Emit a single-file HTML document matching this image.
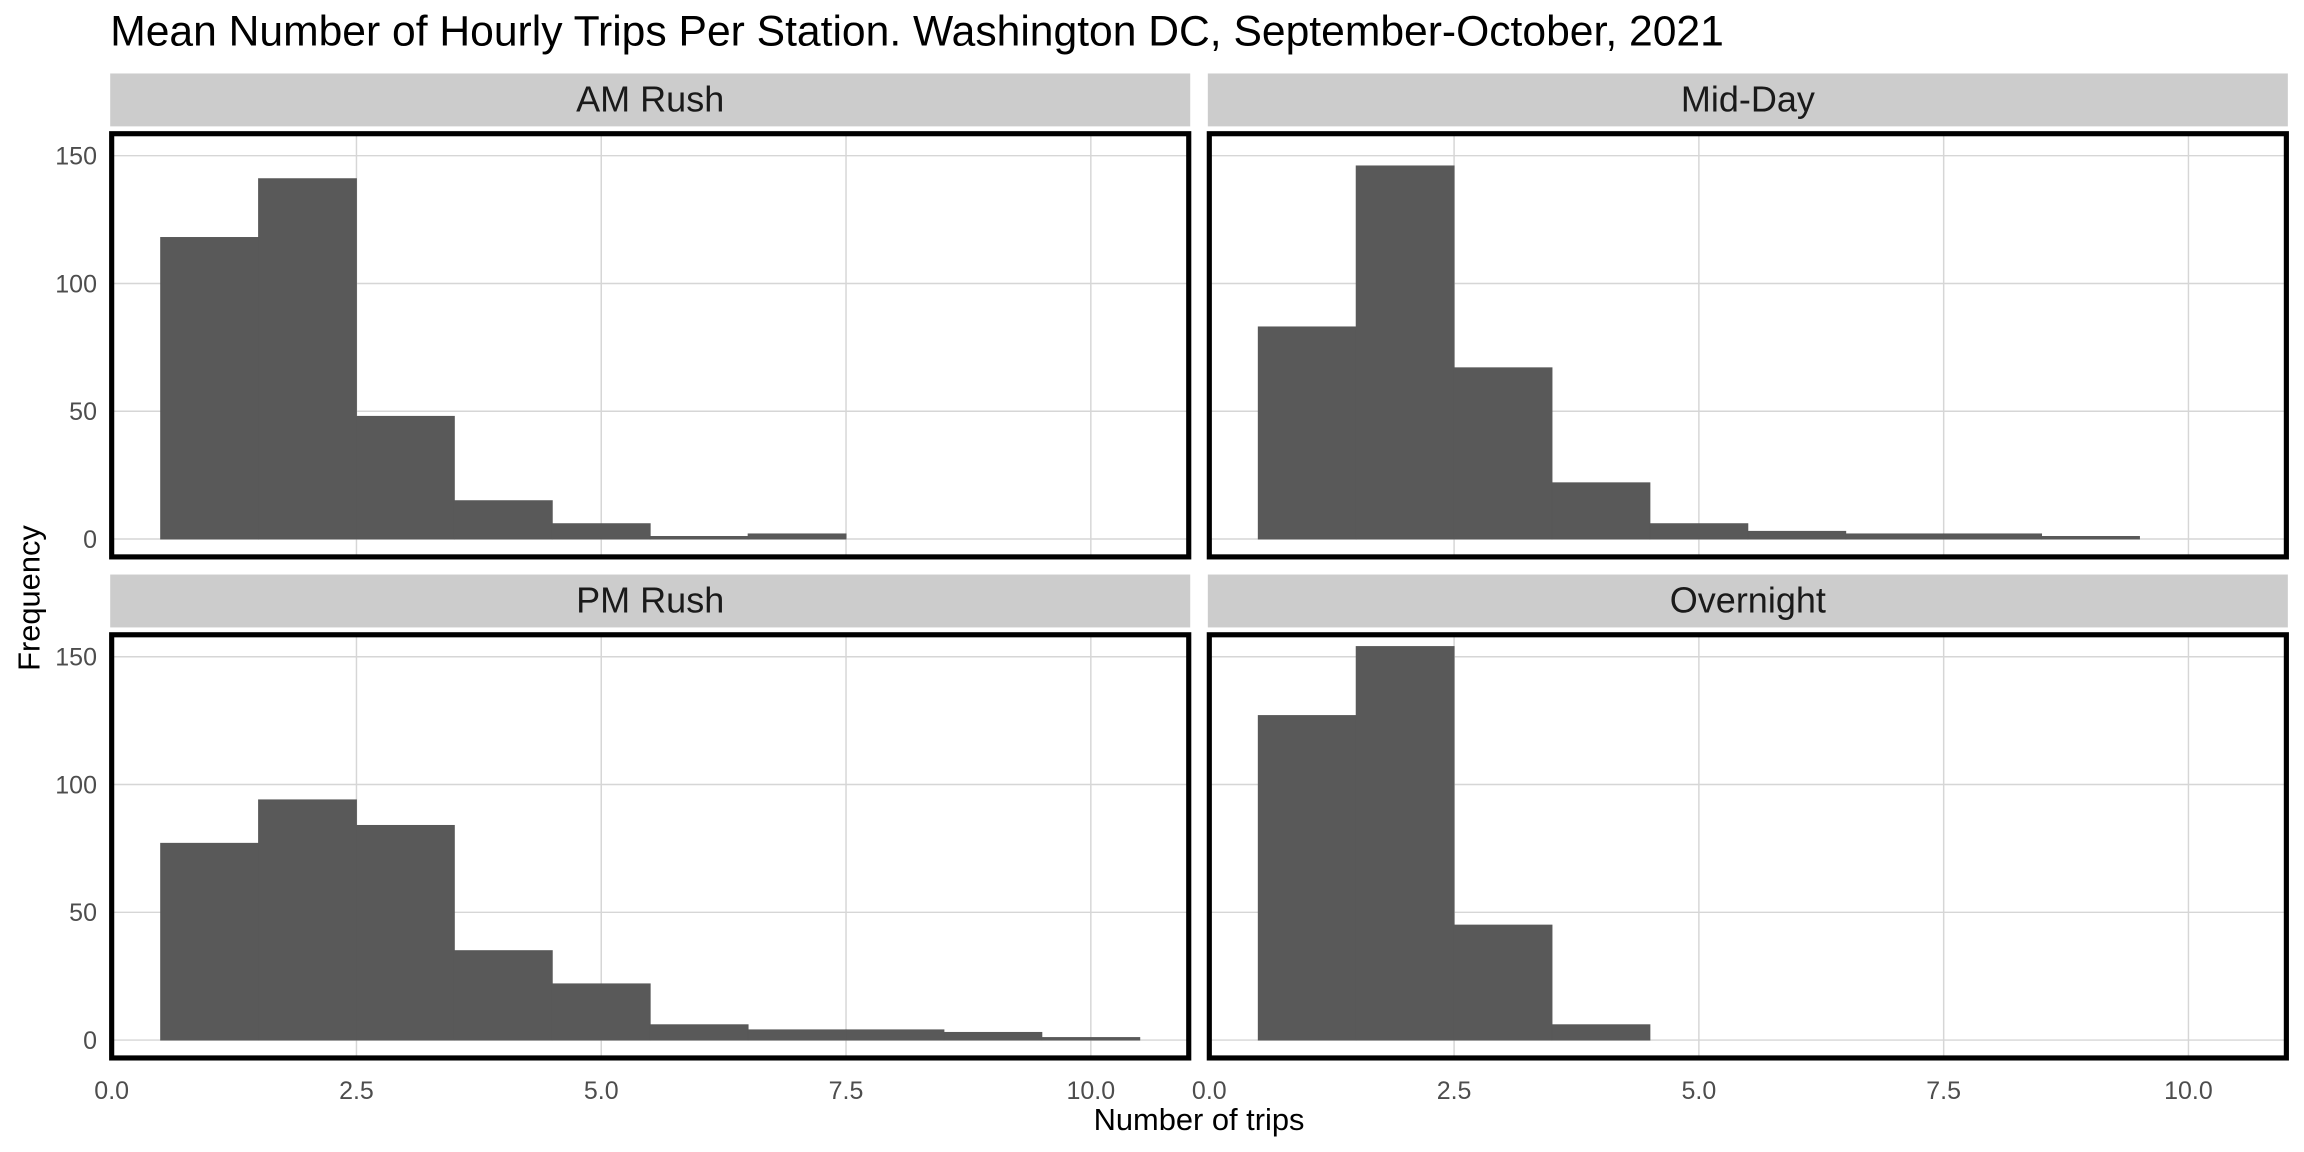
<!DOCTYPE html>
<html><head><meta charset="utf-8"><style>
html,body{margin:0;padding:0;background:#fff;}
svg{display:block;font-family:"Liberation Sans",Arial,sans-serif;}
</style></head><body>
<svg id="chart" width="2304" height="1152" viewBox="0 0 1568 784" xmlns="http://www.w3.org/2000/svg">
<rect width="1568" height="784" fill="#fff"/>
<text x="75" y="31" font-size="29" fill="#000">Mean Number of Hourly Trips Per Station. Washington DC, September-October, 2021</text>
<text x="816" y="769" font-size="21" text-anchor="middle" fill="#000">Number of trips</text>
<text transform="translate(27,407) rotate(-90)" font-size="21" text-anchor="middle" fill="#000">Frequency</text>
<g id="panels"></g>
</svg>
<script>
const panelNames = ["AM Rush","Mid-Day","PM Rush","Overnight"];
const binCenters = [1,2,3,4,5,6,7,8,9,10];
const amRush = [118,141,48,15,6,1,2,0,0,0];
const midDay = [83,146,67,22,6,3,2,2,1,0];
const pmRush = [77,94,84,35,22,6,4,4,3,1];
const overnight = [127,154,45,6,0,0,0,0,0,0];
const xTicks = [0,2.5,5,7.5,10];
const xTickLabels = ["0.0","2.5","5.0","7.5","10.0"];
const yTicks = [0,50,100,150];
const yTickLabels = ["0","50","100","150"];
const binWidth = 1;

const series = [amRush, midDay, pmRush, overnight];
const NS = "http://www.w3.org/2000/svg";
const root = document.getElementById("panels");
const layout = [
  {x0:76,x1:809,y0:91,y1:379,sy:50},
  {x0:823,x1:1556,y0:91,y1:379,sy:50},
  {x0:76,x1:809,y0:432,y1:720,sy:391},
  {x0:823,x1:1556,y0:432,y1:720,sy:391}
];
const xDom=[0,11], yDom=[-7,158.6];
function mk(tag, attrs){const e=document.createElementNS(NS,tag);for(const k in attrs)e.setAttribute(k,attrs[k]);return e;}

panelNames.forEach((name,i)=>{
  const L=layout[i];
  const g=mk("g",{});
  
  
  const xs=v=>L.x0+(v-xDom[0])/(xDom[1]-xDom[0])*(L.x1-L.x0);
  const ys=v=>L.y1-(v-yDom[0])/(yDom[1]-yDom[0])*(L.y1-L.y0);
  const strip=mk("rect",{x:L.x0-1,y:L.sy,width:L.x1-L.x0+2,height:36,fill:"#cccccc"});
  
  
  g.appendChild(strip);
  const st=mk("text",{x:(L.x0+L.x1)/2,y:L.sy+26,"font-size":24.5,"text-anchor":"middle",fill:"#1a1a1a"});
  st.textContent=name;
  
  
  g.appendChild(st);
  yTicks.forEach((t,j)=>{
    const ln=mk("line",{x1:L.x0,x2:L.x1,y1:ys(t),y2:ys(t),stroke:"#d6d6d6","stroke-width":1});
    
    
    g.appendChild(ln);
    if(i%2===0){
      const tx=mk("text",{x:L.x0-10,y:ys(t)+6,"font-size":17,"text-anchor":"end",fill:"#4d4d4d"});
      tx.textContent=yTickLabels[j];
      
      
      g.appendChild(tx);
    }
  });
  xTicks.forEach((t,j)=>{
    const ln=mk("line",{x1:xs(t),x2:xs(t),y1:L.y0,y2:L.y1,stroke:"#d6d6d6","stroke-width":1});
    
    
    g.appendChild(ln);
    if(i>=2){
      const tx=mk("text",{x:xs(t),y:748,"font-size":17,"text-anchor":"middle",fill:"#4d4d4d"});
      tx.textContent=xTickLabels[j];
      
      
      g.appendChild(tx);
    }
  });
  series[i].forEach((v,k)=>{
    if(v<=0) return;
    const c=binCenters[k];
    const r=mk("rect",{x:xs(c-binWidth/2),y:ys(v),width:xs(c+binWidth/2)-xs(c-binWidth/2),height:ys(0)-ys(v),fill:"#595959",stroke:"#595959","stroke-width":0.6});
    
    
    g.appendChild(r);
  });
  const b=mk("rect",{x:L.x0,y:L.y0,width:L.x1-L.x0,height:L.y1-L.y0,fill:"none",stroke:"#000","stroke-width":3.5});
  
  
  g.appendChild(b);
  root.appendChild(g);
});
</script>
</body></html>
